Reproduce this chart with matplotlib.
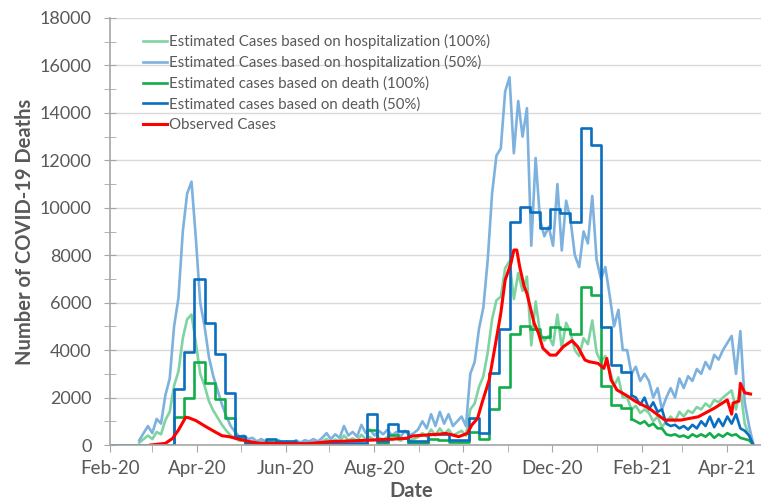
import matplotlib
matplotlib.use("Agg")
import matplotlib.pyplot as plt
import matplotlib.dates as mdates
import pandas as pd

plt.rcParams['font.family'] = ['Lato', 'DejaVu Sans']

# hospitalisation based estimates, every 3 days from 21 Feb 2020
hosp_start = '2020-02-21'
hosp50 = [200, 500, 800, 500, 1100, 900, 2100, 2800, 5000, 6200,
          9000, 10600, 11100, 8700, 6000, 5000, 3700, 2900, 2300, 1700,
          1200, 800, 550, 350, 400, 250, 300, 150, 250, 150,
          200, 100, 200, 100, 150, 100, 200, 100, 200, 150,
          250, 150, 300, 500, 250, 450, 300, 800, 400, 550,
          350, 850, 500, 650, 400, 600, 450, 650, 400, 550,
          350, 600, 400, 500, 650, 1000, 700, 1300, 800, 1400,
          900, 1300, 800, 1000, 1200, 800, 3000, 3500, 4900, 5800,
          7800, 10600, 12200, 12500, 14900, 15500, 12300, 14500, 13000, 14200,
          8400, 12100, 9500, 8800, 9200, 8400, 11000, 8200, 10300, 9500,
          8000, 7500, 9000, 8500, 10500, 7800, 7000, 7500, 6300, 5000,
          5700, 4000, 4000, 3000, 3300, 2700, 3000, 2700, 2000, 2400,
          1500, 2000, 2400, 2000, 2800, 2400, 2900, 2700, 3200, 3000,
          3500, 3200, 3800, 3600, 4000, 4300, 4600, 3000, 4800, 1800,
          800, 0]
hosp100 = [100, 250, 400, 250, 550, 450, 1050, 1400, 2500, 3100,
           4500, 5300, 5500, 4300, 3000, 2500, 1850, 1450, 1150, 850,
           600, 400, 280, 180, 200, 130, 150, 80, 130, 80,
           100, 50, 100, 50, 80, 50, 100, 50, 100, 80,
           130, 80, 150, 250, 130, 230, 150, 400, 200, 280,
           180, 430, 250, 330, 200, 300, 230, 330, 200, 280,
           180, 300, 200, 250, 330, 500, 350, 650, 400, 700,
           450, 650, 400, 500, 600, 400, 1500, 1750, 2450, 2900,
           3900, 5300, 6100, 6250, 7450, 7750, 6150, 7250, 6500, 7100,
           4200, 6050, 4750, 4400, 4600, 4200, 5500, 4100, 5150, 4750,
           4000, 3750, 4500, 4250, 5250, 3900, 3500, 3750, 3150, 2500,
           2850, 2000, 2000, 1500, 1650, 1350, 1500, 1350, 1000, 1200,
           750, 1000, 1200, 1000, 1400, 1200, 1450, 1350, 1600, 1500,
           1750, 1600, 1900, 1800, 2000, 2150, 2300, 1500, 2400, 900,
           400, 0]

# death based estimates, weekly (Mondays) from 27 Jan 2020 to 18 Jan 2021
death_week_start = '2020-01-27'
death50_weekly = [0, 0, 0, 0, 0, 0, 0, 2360, 3920, 7000,
                  5150, 3840, 2200, 400, 100, 100, 250, 180, 180, 80,
                  80, 80, 80, 80, 80, 80, 1290, 180, 870, 590,
                  180, 180, 470, 450, 230, 230, 1130, 500, 3030, 4900,
                  9410, 10030, 9830, 9130, 9930, 9770, 9410, 13350, 12650, 4990,
                  3370, 3090]
death100_weekly = [0, 0, 0, 0, 0, 0, 0, 1190, 1980, 3500,
                   2600, 1940, 1150, 350, 60, 60, 120, 90, 90, 40,
                   40, 40, 40, 40, 40, 40, 640, 90, 430, 300,
                   90, 90, 240, 220, 120, 120, 560, 250, 1510, 2450,
                   4700, 5000, 4900, 4560, 4960, 4880, 4700, 6670, 6320, 2480,
                   1690, 1550]
# death based estimates after 25 Jan 2021, every 3 days
death_tail_start = '2021-01-25'
death50_tail = [2100, 2000, 1700, 2000, 1500, 1800, 1400, 1500, 900, 800,
                850, 700, 800, 650, 850, 700, 1000, 800, 1200, 750,
                1100, 800, 1200, 900, 1300, 700, 600, 400, 0]
death100_tail = [1100, 1000, 900, 1000, 800, 900, 700, 700, 450, 400,
                 450, 350, 400, 300, 450, 350, 450, 350, 500, 300,
                 450, 350, 500, 400, 450, 300, 250, 200, 0]

obs_dates = ['2020-02-29', '2020-03-10', '2020-03-15', '2020-03-19', '2020-03-24',
             '2020-03-26', '2020-03-31', '2020-04-07', '2020-04-13', '2020-04-18',
             '2020-04-23', '2020-04-30', '2020-05-07', '2020-05-14', '2020-05-28',
             '2020-06-15', '2020-07-01', '2020-07-31', '2020-08-23', '2020-08-27',
             '2020-09-15', '2020-09-19', '2020-09-24', '2020-09-28', '2020-10-04',
             '2020-10-07', '2020-10-11', '2020-10-14', '2020-10-19', '2020-10-23',
             '2020-10-27', '2020-10-30', '2020-11-03', '2020-11-05', '2020-11-07',
             '2020-11-09', '2020-11-12', '2020-11-14', '2020-11-19', '2020-11-22',
             '2020-11-25', '2020-11-30', '2020-12-04', '2020-12-09', '2020-12-15',
             '2020-12-19', '2020-12-24', '2020-12-27', '2021-01-02', '2021-01-06',
             '2021-01-08', '2021-01-11', '2021-01-15', '2021-01-21', '2021-01-28',
             '2021-02-06', '2021-02-17', '2021-02-28', '2021-03-12', '2021-03-23',
             '2021-04-01', '2021-04-04', '2021-04-05', '2021-04-09', '2021-04-10',
             '2021-04-13', '2021-04-17']
obs_values = [0, 70, 280, 630, 1170,
              1150, 1030, 770, 560, 390,
              350, 240, 140, 70, 60,
              50, 140, 210, 280, 380,
              460, 490, 420, 350, 490,
              840, 1120, 1760, 2740, 4140,
              5550, 6950, 7660, 8220, 8220,
              7520, 6700, 6390, 5130, 4710,
              4080, 3790, 3790, 4140, 4400,
              4140, 3580, 3510, 3440, 3230,
              3650, 2740, 2320, 2110, 1830,
              1550, 1050, 1050, 1190, 1550,
              1900, 1300, 1770, 1850, 2600,
              2200, 2150]

c_h100 = '#7fd3a1'
c_h50 = '#7db1de'
c_d100 = '#12ad4b'
c_d50 = '#0b6fc0'
c_obs = '#ff0000'
grey = '#595959'

hosp_x = pd.date_range(hosp_start, periods=len(hosp50), freq='3D')
week_x = pd.date_range(death_week_start, periods=len(death50_weekly) + 1, freq='7D')
tail_x = pd.date_range(death_tail_start, periods=len(death50_tail), freq='3D')
obs_x = pd.to_datetime(obs_dates)

fig = plt.figure(figsize=(7.61, 5.01), dpi=100)
ax = fig.add_axes([110.2 / 761, 1 - 445 / 501, 1 - 110.2 / 761, 427 / 501])

lw = 1.9
ax.plot(hosp_x, hosp100, color=c_h100, lw=lw, label='Estimated Cases based on hospitalization (100%)')
ax.plot(hosp_x, hosp50, color=c_h50, lw=lw, label='Estimated Cases based on hospitalization (50%)')
ax.plot(week_x, death100_weekly + [death100_tail[0]], color=c_d100, lw=lw,
        drawstyle='steps-post', label='Estimated cases based on death (100%)')
ax.plot(tail_x, death100_tail, color=c_d100, lw=lw)
ax.plot(week_x, death50_weekly + [death50_tail[0]], color=c_d50, lw=lw,
        drawstyle='steps-post', label='Estimated cases based on death (50%)')
ax.plot(tail_x, death50_tail, color=c_d50, lw=lw)
ax.plot(obs_x, obs_values, color=c_obs, lw=2.2, label='Observed Cases')

x0 = pd.Timestamp('2020-02-01')
ax.set_xlim(x0, x0 + pd.Timedelta(days=(761 - 110.2) / 1.452))
ax.set_ylim(0, 18000)
ax.set_yticks(range(0, 18001, 2000))
ax.set_yticks(range(1000, 18000, 2000), minor=True)
ax.xaxis.set_major_locator(mdates.MonthLocator(bymonth=[2, 4, 6, 8, 10, 12]))
ax.xaxis.set_minor_locator(mdates.MonthLocator())
ax.xaxis.set_major_formatter(mdates.DateFormatter('%b-%y'))

ax.grid(axis='y', color='#d9d9d9', lw=1)
ax.set_axisbelow(True)
for s in ['top', 'right']:
    ax.spines[s].set_visible(False)
for s in ['left', 'bottom']:
    ax.spines[s].set_color('#a6a6a6')
    ax.spines[s].set_linewidth(1.2)
ax.tick_params(axis='y', which='both', direction='inout', color='#a6a6a6', labelcolor=grey,
               labelsize=13, length=9, pad=9)
ax.tick_params(axis='x', which='both', direction='out', color='#a6a6a6', labelcolor=grey,
               labelsize=13.5, length=5, pad=6)

ax.set_ylabel('Number of COVID-19 Deaths', fontsize=14.5, fontweight='bold', color=grey)
ax.yaxis.set_label_coords(-0.115, 0.5)
ax.set_xlabel('Date', fontsize=14.5, fontweight='bold', color=grey)
ax.xaxis.set_label_coords((411 - 110.2) / (761 - 110.2), -0.085)

ax.legend(loc='upper left', bbox_to_anchor=(143 / 761, 1 - 34 / 501), bbox_transform=fig.transFigure,
          frameon=False, fontsize=10.8, labelcolor=grey, handlelength=1.6, handletextpad=0.15,
          labelspacing=0.42, borderaxespad=0, borderpad=0)

fig.savefig('out.png', dpi=100)
